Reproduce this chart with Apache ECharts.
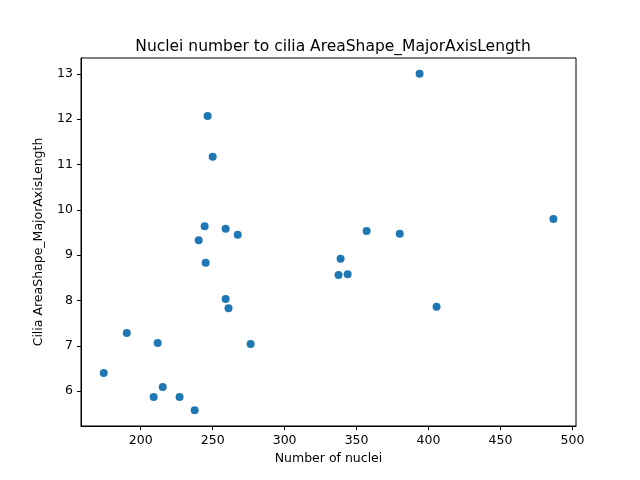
<!DOCTYPE html>
<html>
<head>
<meta charset="utf-8">
<script src="https://cdn.jsdelivr.net/npm/echarts@6/dist/echarts.min.js"></script>
<style>html,body{margin:0;background:#fff}#chart{width:640px;height:480px}</style>
</head>
<body>
<div id="chart"></div>
<script>
// nuclei count per image vs mean cilia major axis length
const nucleiCount = [174.3, 190.3, 211.8, 215.3, 209, 227, 237.5, 246.5, 250, 244.4, 240.3, 245.1,
  259, 267.4, 259, 261, 276.4, 338.9, 337.5, 343.8, 357, 380, 393.8, 405.6, 486.8];
const majorAxisLength = [6.4, 7.28, 7.06, 6.09, 5.87, 5.87, 5.58, 12.07, 11.17, 9.64, 9.33, 8.83,
  9.58, 9.45, 8.03, 7.83, 7.04, 8.92, 8.56, 8.58, 9.53, 9.47, 13.0, 7.86, 9.8];

const points = nucleiCount.map((x, i) => [x, majorAxisLength[i]]);
const font = 'DejaVu Sans';
const xTicks = [200, 250, 300, 350, 400, 450, 500];
const yTicks = [6, 7, 8, 9, 10, 11, 12, 13];

const axisCommon = {
  axisLine: { show: true, onZero: false, lineStyle: { color: '#000', width: 1 } },
  axisTick: { show: true, inside: false, length: 4, lineStyle: { color: '#000' } },
  axisLabel: { color: '#000', fontFamily: font, fontSize: 12.5 },
  splitLine: { show: false },
  nameLocation: 'middle',
  nameTextStyle: { color: '#000', fontFamily: font, fontSize: 12.5 }
};

const chart = echarts.init(document.getElementById('chart'));
chart.setOption({
  animation: false,
  title: {
    text: 'Nuclei number to cilia AreaShape_MajorAxisLength',
    left: 328, top: 34, textAlign: 'center',
    textStyle: { fontFamily: font, fontSize: 15.5, fontWeight: 'normal', color: '#000' }
  },
  grid: { left: 81, right: 64, top: 58, bottom: 54, show: true, borderColor: '#000', borderWidth: 1 },
  xAxis: Object.assign({}, axisCommon, {
    type: 'value', min: 158.5, max: 502.5, name: 'Number of nuclei', nameGap: 23,
    axisLabel: Object.assign({}, axisCommon.axisLabel, { customValues: xTicks }),
    axisTick: Object.assign({}, axisCommon.axisTick, { customValues: xTicks })
  }),
  yAxis: Object.assign({}, axisCommon, {
    type: 'value', min: 5.23, max: 13.35, name: 'Cilia AreaShape_MajorAxisLength', nameGap: 36,
    axisLabel: Object.assign({}, axisCommon.axisLabel, { customValues: yTicks }),
    axisTick: Object.assign({}, axisCommon.axisTick, { customValues: yTicks })
  }),
  series: [{
    type: 'scatter',
    data: points,
    symbolSize: 8,
    itemStyle: { color: '#1f77b4', opacity: 1 }
  }]
});
</script>
</body>
</html>
